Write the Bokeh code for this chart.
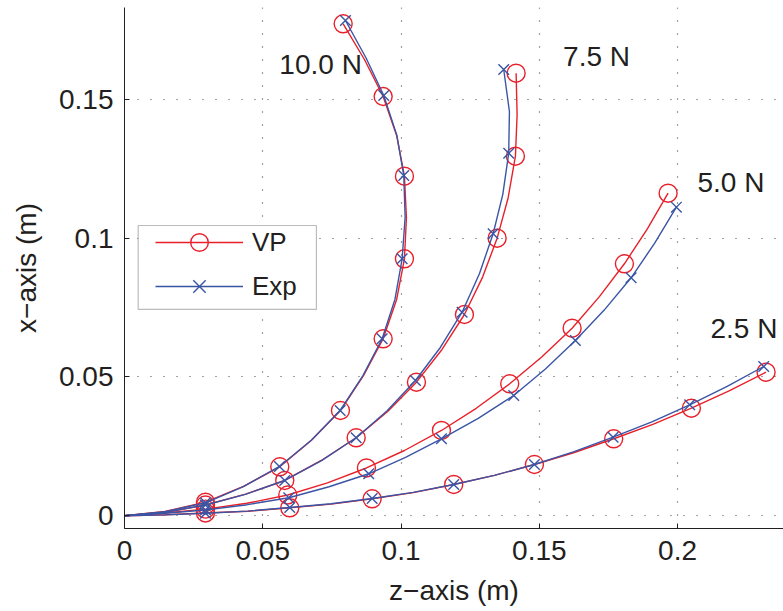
from bokeh.plotting import figure
from bokeh.models import Range1d, FixedTicker, Legend, LegendItem, ColumnDataSource, BoxAnnotation
from bokeh.core.properties import value
from bokeh.embed import file_html
from bokeh.resources import INLINE

# ---------------- data (z-axis, x-axis in m) ----------------
# each line list: origin, then alternating mid-curve point / marker point
vp_10_z = [0, 0.01464, 0.02928, 0.04302, 0.05615, 0.06761, 0.07809, 0.08641, 0.09353,
           0.09841, 0.10123, 0.10195, 0.10123, 0.09841, 0.09353, 0.08677, 0.07907]
vp_10_x = [0, 0.00155, 0.00490, 0.01063, 0.01765, 0.02723, 0.03793, 0.05047, 0.06376,
           0.07792, 0.09258, 0.10746, 0.12233, 0.13700, 0.15104, 0.16437, 0.17723]
exp_10_z = [0, 0.01464, 0.02928, 0.04302, 0.05604, 0.06753, 0.07798, 0.08623, 0.09317,
            0.09779, 0.10040, 0.10148, 0.10098, 0.09845, 0.09375, 0.08731, 0.07990]
exp_10_x = [0, 0.00148, 0.00468, 0.01048, 0.01776, 0.02723, 0.03793, 0.05047, 0.06376,
            0.07792, 0.09258, 0.10756, 0.12259, 0.13718, 0.15140, 0.16499, 0.17842]

vp_75_z = [0, 0.01464, 0.02928, 0.04378, 0.05795, 0.07115, 0.08377, 0.09516, 0.10557,
           0.11482, 0.12292, 0.12950, 0.13475, 0.13872, 0.14136, 0.14197, 0.14161]
vp_75_x = [0, 0.00119, 0.00389, 0.00778, 0.01272, 0.01992, 0.02810, 0.03757, 0.04813,
           0.05991, 0.07251, 0.08599, 0.10000, 0.11448, 0.12954, 0.14456, 0.15944]
exp_75_z = [0, 0.01464, 0.02928, 0.04371, 0.05795, 0.07126, 0.08377, 0.09498, 0.10521,
            0.11421, 0.12209, 0.12834, 0.13330, 0.13680, 0.13894, 0.13919, 0.13713]
exp_75_x = [0, 0.00126, 0.00389, 0.00771, 0.01272, 0.01985, 0.02810, 0.03786, 0.04874,
            0.06063, 0.07334, 0.08718, 0.10159, 0.11581, 0.13062, 0.14564, 0.16077]

vp_50_z = [0, 0.01464, 0.02928, 0.04425, 0.05904, 0.07339, 0.08749, 0.10123, 0.11461,
           0.12719, 0.13930, 0.15087, 0.16186, 0.17166, 0.18077, 0.18901, 0.19657]
vp_50_x = [0, 0.00101, 0.00241, 0.00450, 0.00749, 0.01185, 0.01722, 0.02352, 0.03073,
           0.03872, 0.04755, 0.05720, 0.06758, 0.07885, 0.09078, 0.10324, 0.11621]
exp_50_z = [0, 0.01464, 0.02928, 0.04443, 0.05940, 0.07397, 0.08832, 0.10163, 0.11461,
            0.12791, 0.14075, 0.15221, 0.16305, 0.17347, 0.18319, 0.19172, 0.19957]
exp_50_x = [0, 0.00090, 0.00209, 0.00400, 0.00648, 0.01045, 0.01513, 0.02104, 0.02774,
            0.03512, 0.04334, 0.05288, 0.06315, 0.07410, 0.08573, 0.09820, 0.11117]

vp_25_z = [0, 0.01464, 0.02928, 0.04458, 0.05976, 0.07469, 0.08955, 0.10438, 0.11905,
           0.13373, 0.14823, 0.16266, 0.17690, 0.19107, 0.20499, 0.21862, 0.23200]
vp_25_x = [0, 0.00036, 0.00101, 0.00162, 0.00288, 0.00421, 0.00612, 0.00836, 0.01128,
           0.01455, 0.01848, 0.02280, 0.02774, 0.03296, 0.03876, 0.04499, 0.05173]
exp_25_z = [0, 0.01464, 0.02928, 0.04458, 0.05976, 0.07469, 0.08955, 0.10438, 0.11905,
            0.13373, 0.14823, 0.16258, 0.17668, 0.19071, 0.20438, 0.21793, 0.23113]
exp_25_x = [0, 0.00032, 0.00090, 0.00169, 0.00299, 0.00432, 0.00623, 0.00843, 0.01128,
            0.01455, 0.01848, 0.02309, 0.02831, 0.03386, 0.03999, 0.04661, 0.05378]

force_labels = ["10.0 N", "7.5 N", "5.0 N", "2.5 N"]
label_z = [0.0560, 0.1586, 0.2072, 0.2119]
label_x = [0.1626, 0.1656, 0.1199, 0.0673]

x_ticks = [0, 0.05, 0.1, 0.15, 0.2]
x_tick_labels = ["0", "0.05", "0.1", "0.15", "0.2"]
y_ticks = [0, 0.05, 0.1, 0.15]
y_tick_labels = ["0", "0.05", "0.1", "0.15"]

series_names = ["VP", "Exp"]

# ---------------- styling ----------------
FONT = "Liberation Sans"
TXT = "#231f20"
RED = "#e8202a"
BLUE = "#3a55a5"

p = figure(frame_width=659, frame_height=521,
           min_border_left=124, min_border_right=0, min_border_top=7, min_border_bottom=83,
           x_range=Range1d(0, 0.2383), y_range=Range1d(-0.00458, 0.1831),
           output_backend="svg", toolbar_location=None,
           background_fill_color="white", border_fill_color="white")
p.outline_line_color = None

p.xaxis.ticker = FixedTicker(ticks=x_ticks)
p.yaxis.ticker = FixedTicker(ticks=y_ticks)
p.xaxis.major_label_overrides = {t: l for t, l in zip(x_ticks, x_tick_labels)}
p.yaxis.major_label_overrides = {t: l for t, l in zip(y_ticks, y_tick_labels)}
for ax in (p.xaxis, p.yaxis):
    ax.major_tick_in = 5
    ax.major_tick_out = 0
    ax.minor_tick_line_color = None
    ax.axis_line_color = TXT
    ax.axis_line_width = 1
    ax.major_tick_line_color = TXT
    ax.major_label_text_font = FONT
    ax.major_label_text_font_size = "28px"
    ax.major_label_text_color = TXT
    ax.axis_label_text_font = FONT
    ax.axis_label_text_font_size = "28px"
    ax.axis_label_text_font_style = "normal"
    ax.axis_label_text_color = TXT
p.xaxis.axis_label = "z\u2212axis (m)"
p.yaxis.axis_label = "x\u2212axis (m)"
p.xaxis.major_label_standoff = 12
p.yaxis.major_label_standoff = 11
p.xaxis.axis_label_standoff = 12
p.yaxis.axis_label_standoff = 14

for g in (p.xgrid, p.ygrid):
    g.grid_line_color = "#444444"
    g.grid_line_dash = "1 12"
    g.grid_line_width = 1.2

vp_sets = [(vp_10_z, vp_10_x), (vp_75_z, vp_75_x), (vp_50_z, vp_50_x), (vp_25_z, vp_25_x)]
exp_sets = [(exp_10_z, exp_10_x), (exp_75_z, exp_75_x), (exp_50_z, exp_50_x), (exp_25_z, exp_25_x)]

vp_rend, exp_rend = [], []
for zs, xs in vp_sets:
    l = p.line(zs, xs, line_color=RED, line_width=1.4)
    m = p.scatter(zs[2::2], xs[2::2], marker="circle", size=18, line_color=RED,
                  line_width=1.4, fill_color=None)
    vp_rend.append((l, m))
for zs, xs in exp_sets:
    l = p.line(zs, xs, line_color=BLUE, line_width=1.4)
    m = p.scatter(zs[2::2], xs[2::2], marker="x", size=15, line_color=BLUE, line_width=1.4)
    exp_rend.append((l, m))

src = ColumnDataSource(dict(z=label_z, x=label_x, t=force_labels))
p.text("z", "x", text="t", source=src, text_font=value(FONT), text_font_size="28px",
       text_color=TXT, text_baseline="middle", text_align="left")

# legend frame (white box with dark border) behind the legend entries
box = BoxAnnotation(left=0.00495, right=0.0694, bottom=0.07432, top=0.10457,
                    fill_color="white", fill_alpha=1, line_color=TXT, line_width=1.2,
                    level="annotation")
p.add_layout(box)

legend = Legend(items=[LegendItem(label=series_names[0], renderers=list(vp_rend[0])),
                       LegendItem(label=series_names[1], renderers=list(exp_rend[0]))],
                location=(31, 220), orientation="vertical",
                padding=0, spacing=-7, margin=0,
                glyph_width=88, glyph_height=44, label_height=28, label_width=40,
                label_standoff=9,
                label_text_font=FONT, label_text_font_size="26px", label_text_color=TXT,
                label_text_baseline="middle",
                border_line_color=None, background_fill_alpha=0)
p.add_layout(legend, "center")

open("out.html", "w").write(file_html(p, INLINE))
